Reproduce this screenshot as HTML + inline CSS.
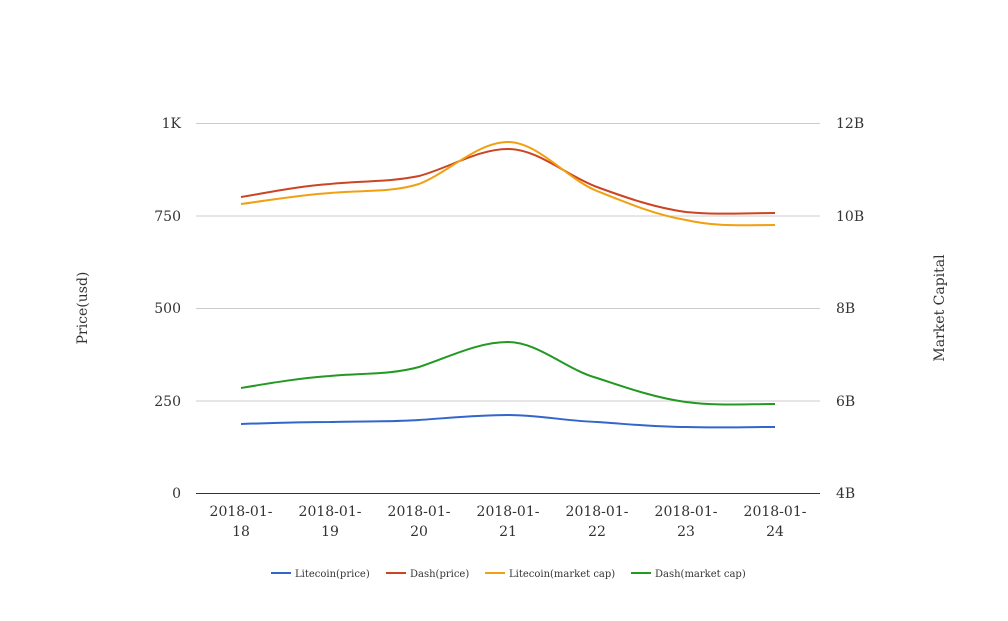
<!DOCTYPE html>
<html><head><style>body{margin:0;background:#fff}</style></head><body>
<svg width="1008" height="616" xmlns="http://www.w3.org/2000/svg" font-family="DejaVu Serif, Liberation Serif, serif">
<g stroke="#ccc" stroke-width="1">
<line x1="196" y1="123.5" x2="820" y2="123.5"/>
<line x1="196" y1="216" x2="820" y2="216"/>
<line x1="196" y1="308.5" x2="820" y2="308.5"/>
<line x1="196" y1="401" x2="820" y2="401"/>
</g>
<line x1="196" y1="493.5" x2="820" y2="493.5" stroke="#333"/>
<g font-size="14" fill="#333" text-anchor="end">
<text x="181" y="128">1K</text><text x="181" y="221">750</text><text x="181" y="313">500</text><text x="181" y="406">250</text><text x="181" y="498">0</text>
</g>
<g font-size="14" fill="#333">
<text x="836" y="128">12B</text><text x="836" y="221">10B</text><text x="836" y="313">8B</text><text x="836" y="406">6B</text><text x="836" y="498">4B</text>
</g>
<g font-size="14" fill="#333" text-anchor="middle">
<text x="241" y="516">2018-01-</text><text x="241" y="536">18</text>
<text x="330" y="516">2018-01-</text><text x="330" y="536">19</text>
<text x="419" y="516">2018-01-</text><text x="419" y="536">20</text>
<text x="508" y="516">2018-01-</text><text x="508" y="536">21</text>
<text x="597" y="516">2018-01-</text><text x="597" y="536">22</text>
<text x="686" y="516">2018-01-</text><text x="686" y="536">23</text>
<text x="775" y="516">2018-01-</text><text x="775" y="536">24</text>
</g>
<text transform="translate(87,308) rotate(-90)" font-size="14" fill="#333" text-anchor="middle">Price(usd)</text>
<text transform="translate(944,308) rotate(-90)" font-size="14" fill="#333" text-anchor="middle">Market Capital</text>
<g fill="none" stroke-width="2">
<path stroke="#3366cc" d="M241,424 C271,423 300,422 330,422 C360,421 390,422 419,420 C449,418 478,415 508,415 C538,415 567,421 597,422 C627,424 656,427 686,427 C716,428 745,427 775,427"/>
<path stroke="#cc4422" d="M241,197 C271,192 300,186 330,184 C360,181 390,182 419,176 C449,168 478,149 508,149 C538,149 567,176 597,187 C627,198 656,208 686,212 C716,215 745,213 775,213"/>
<path stroke="#f0a010" d="M241,204 C271,200 300,195 330,193 C360,190 390,193 419,184 C449,172 478,142 508,142 C538,142 567,179 597,191 C627,203 656,215 686,220 C716,227 745,225 775,225"/>
<path stroke="#229922" d="M241,388 C271,383 300,378 330,376 C360,373 390,375 419,367 C449,357 478,342 508,342 C538,342 567,370 597,378 C627,388 656,398 686,402 C716,406 745,404 775,404"/>
</g>
<g font-size="10" fill="#333">
<line x1="271" y1="573" x2="291" y2="573" stroke="#3366cc" stroke-width="2"/><text x="295" y="577">Litecoin(price)</text>
<line x1="386" y1="573" x2="406" y2="573" stroke="#cc4422" stroke-width="2"/><text x="410" y="577">Dash(price)</text>
<line x1="485" y1="573" x2="505" y2="573" stroke="#f0a010" stroke-width="2"/><text x="509" y="577">Litecoin(market cap)</text>
<line x1="631" y1="573" x2="651" y2="573" stroke="#229922" stroke-width="2"/><text x="655" y="577">Dash(market cap)</text>
</g>
</svg>
</body></html>
